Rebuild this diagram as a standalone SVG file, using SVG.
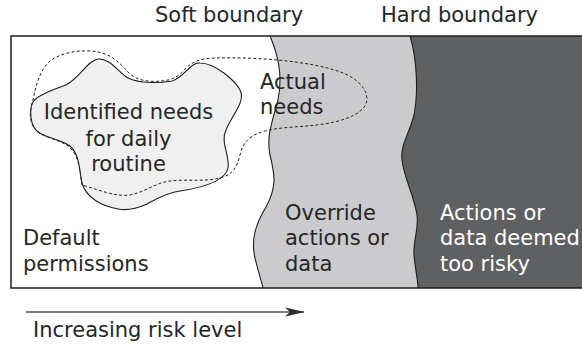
<svg xmlns="http://www.w3.org/2000/svg" width="582" height="349" viewBox="0 0 582 349">
  <style>
    .lbl { font-family: "DejaVu Sans", "Liberation Sans", sans-serif; font-size: 21px; fill: #262626; }
    .lbl.light { fill: #ffffff; }
    .mid { text-anchor: middle; }
    .edge { fill: none; stroke: #1e1e1e; stroke-width: 1.1; }
    .dash { fill: none; stroke: #222; stroke-width: 1; stroke-dasharray: 3 2.2; }
  </style>
  <defs>
    <marker id="stealth" viewBox="0 0 20 10" refX="19" refY="5" markerUnits="userSpaceOnUse" markerWidth="20" markerHeight="10" orient="auto">
      <path d="M0 0.4 L20 5 L0 9.6 L5 5 Z" fill="#2e2e2e"/>
    </marker>
  </defs>

  <rect width="582" height="349" fill="#ffffff"/>

  <!-- zone headings -->
  <text class="lbl" x="155" y="22">Soft boundary</text>
  <text class="lbl" x="381" y="22">Hard boundary</text>

  <!-- permission zones -->
  <g id="zone-default">
    <rect x="11" y="36" width="590" height="252" fill="#ffffff"/>
  </g>
  <g id="zone-override">
    <path d="M 270 36 C 278 55, 283 75, 278 100 C 273 120, 266 135, 270 155 C 275 175, 277 187, 266 207 C 255 225, 250 242, 256 262 C 259 275, 262 282, 263 288 L 590 288 L 590 36 Z" fill="#cbcbcd"/>
    <path class="edge" d="M 270 36 C 278 55, 283 75, 278 100 C 273 120, 266 135, 270 155 C 275 175, 277 187, 266 207 C 255 225, 250 242, 256 262 C 259 275, 262 282, 263 288"/>
  </g>
  <g id="zone-risky">
    <path d="M 410 36 C 416 55, 419 90, 414 115 C 410 132, 400 145, 402 160 C 404 178, 414 195, 417 215 C 419 230, 413 240, 414 255 C 415 268, 418 280, 418 288 L 590 288 L 590 36 Z" fill="#5f6062"/>
    <path class="edge" d="M 410 36 C 416 55, 419 90, 414 115 C 410 132, 400 145, 402 160 C 404 178, 414 195, 417 215 C 419 230, 413 240, 414 255 C 415 268, 418 280, 418 288"/>
  </g>
  <rect x="11" y="36" width="590" height="252" fill="none" stroke="#1e1e1e" stroke-width="1.5"/>

  <!-- identified needs blob -->
  <g id="identified-needs">
    <path d="M 33 102 C 36 96, 50 91, 66 85 C 80 78, 88 60, 98 59 C 110 58, 118 72, 128 78 C 140 84, 160 83, 172 81 C 184 78, 190 62, 200 63 C 214 63, 236 80, 241 92 C 244 104, 232 115, 226 130 C 220 142, 230 155, 228 168 C 225 182, 200 188, 180 191 C 165 193, 155 200, 147 204 C 138 208, 128 211, 118 209 C 102 206, 86 198, 82 183 C 79 170, 80 155, 70 146 C 60 139, 46 138, 38 132 C 30 126, 29 110, 33 102 Z" fill="#f0f0f0" stroke="#1e1e1e" stroke-width="1.1"/>
  </g>

  <!-- actual needs outline -->
  <g id="actual-needs">
    <path class="dash" d="M 82 185 C 80 172, 80 156, 68 146 C 58 139, 44 138, 36 130 C 29 123, 29 112, 33 100 C 36 85, 40 70, 50 61 C 62 52, 82 49, 98 52 C 114 55, 122 66, 130 74 C 138 81, 150 82, 162 81 C 172 80, 180 76, 185 69 C 192 62, 200 58, 217 58 C 250 57, 310 60, 343 73 C 360 80, 370 92, 366 104 C 360 116, 340 122, 317 125 C 300 127, 280 127, 265 131 C 250 135, 243 142, 240 155 C 237 168, 232 175, 220 178 C 205 182, 185 179, 170 181 C 155 183, 145 192, 130 195 C 115 197, 100 190, 82 185 Z"/>
  </g>

  <!-- labels -->
  <text class="lbl mid" x="128.5" y="119">Identified needs</text>
  <text class="lbl mid" x="128.5" y="145.5">for daily</text>
  <text class="lbl mid" x="128.5" y="170.5">routine</text>

  <text class="lbl" x="260" y="88.5">Actual</text>
  <text class="lbl" x="260" y="113.5">needs</text>

  <text class="lbl" x="23" y="245">Default</text>
  <text class="lbl" x="23" y="270.5">permissions</text>

  <text class="lbl" x="285" y="219.5">Override</text>
  <text class="lbl" x="285" y="245">actions or</text>
  <text class="lbl" x="285" y="270.5">data</text>

  <text class="lbl light" x="440" y="219.5">Actions or</text>
  <text class="lbl light" x="440" y="245">data deemed</text>
  <text class="lbl light" x="440" y="270.5">too risky</text>

  <!-- risk axis -->
  <g id="connectors">
    <line x1="26" y1="312" x2="304" y2="312" stroke="#555" stroke-width="1.6" marker-end="url(#stealth)"/>
  </g>
  <text class="lbl" x="33" y="337">Increasing risk level</text>
</svg>
